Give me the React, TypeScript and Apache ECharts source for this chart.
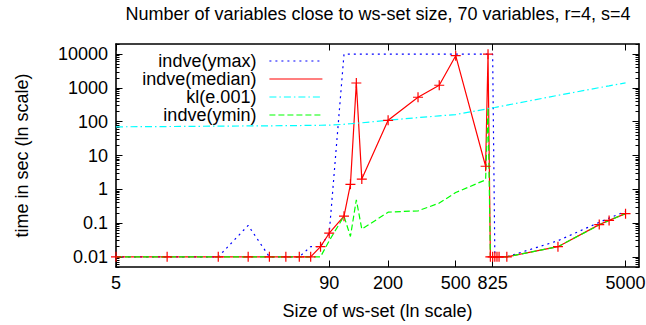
import React, { useEffect, useRef } from "react";
import * as echarts from "echarts";

// ws-set sizes (x, ln scale)
const sizes = [5, 10, 20, 30, 40, 50, 60, 70, 80, 90, 110, 120, 130, 140, 200, 300, 400, 500, 750, 775, 800, 825, 850, 875, 900, 1000, 2000, 3500, 4000, 5000];

// time in seconds per series
const ymaxValues = [0.01, 0.01, 0.01, 0.085, 0.01, 0.01, 0.01, 0.02, 0.02, 0.05, 10000, 10000, 10000, 10000, 10000, 10000, 10000, 10000, 10000, 10000, 10000, 10000, 0.01, 0.01, 0.01, 0.01, 0.03, 0.105, 0.14, 0.22];
const medianValues = [0.01, 0.01, 0.01, 0.01, 0.01, 0.01, 0.01, 0.01, 0.02, 0.05, 0.16, 1.4, 1400, 2.0, 110, 530, 1200, 9000, 4.8, 10000, 0.01, 0.01, 0.01, 0.01, 0.01, 0.01, 0.02, 0.09, 0.12, 0.19];
const klValues = [70.6, 72, 74, 75, 75.5, 76.5, 77, 78, 78.5, 79, 84, 87, 90, 93, 111, 132, 149, 163, 236, 245, 250, 258, 264, 272, 280, 309, 603, 1020, 1150, 1420];
const yminValues = [0.01, 0.01, 0.01, 0.01, 0.01, 0.01, 0.01, 0.01, 0.01, 0.03, 0.16, 0.04, 0.49, 0.066, 0.21, 0.23, 0.39, 0.8, 1.9, 260, 0.01, 0.01, 0.01, 0.01, 0.01, 0.01, 0.02, 0.088, 0.12, 0.19];

// tick labels
const xTickValues = [5, 90, 200, 500, 825, 5000];
const yTickValues = [0.01, 0.1, 1, 10, 100, 1000, 10000];
const yMinorMultipliers = [2, 3, 4, 5, 6, 7, 8, 9];
const yMinorDecades = [0.001, 0.01, 0.1, 1, 10, 100, 1000, 10000];

const seriesNames = ["indve(ymax)", "indve(median)", "kl(e.001)", "indve(ymin)"];

const FONT = "'Liberation Sans', Arial, Helvetica, sans-serif";
const X_MIN = 5;
const X_MAX = 6000;
const Y_MIN = 0.005;
const Y_MAX = 20000;

const fmt = (v: any) => String(+(+v).toPrecision(6));

function pairs(values: number[]) {
  return sizes.map((s, i) => [s, values[i]]);
}

export default function App() {
  const ref = useRef<HTMLDivElement>(null);

  useEffect(() => {
    if (!ref.current) return;
    const chart = echarts.init(ref.current, null, { renderer: "svg" });

    const yMinor: number[] = [];
    yMinorDecades.forEach((d) =>
      yMinorMultipliers.forEach((m) => {
        const v = +(m * d).toPrecision(4);
        if (v >= Y_MIN && v <= Y_MAX) yMinor.push(v);
      })
    );

    const axisLine = { show: true, onZero: false, lineStyle: { color: "#000", width: 1.6 } };
    const tickLine = { color: "#000", width: 1 };
    const labelStyle = { fontSize: 18, color: "#000", fontFamily: FONT };

    const option: any = {
      animation: false,
      backgroundColor: "#fff",
      title: {
        text: "Number of variables close to ws-set size, 70 variables, r=4, s=4",
        left: 378,
        top: 5,
        padding: 0,
        textAlign: "center",
        textStyle: { fontSize: 18, fontWeight: "normal", color: "#000", fontFamily: FONT },
      },
      grid: { left: 116, right: 7, top: 44, bottom: 58, containLabel: false, outerBoundsMode: "none" },
      legend: {
        orient: "vertical",
        align: "right",
        right: 323,
        top: 52,
        itemWidth: 53,
        itemHeight: 14,
        itemGap: 0,
        padding: 0,
        textStyle: { ...labelStyle, lineHeight: 18, padding: [0, 8, 0, 0] },
        lineStyle: { width: 1.2 },
        data: seriesNames.map((n) => ({ name: n, itemStyle: { opacity: 0 } })),
      },
      xAxis: [
        {
          type: "log",
          logBase: 10,
          min: X_MIN,
          max: X_MAX,
          position: "bottom",
          axisLine,
          axisTick: { show: true, inside: true, length: 6.5, customValues: xTickValues, lineStyle: tickLine },
          axisLabel: {
            show: true,
            customValues: xTickValues,
            formatter: fmt,
            margin: 7,
            hideOverlap: false,
            interval: 0,
            ...labelStyle,
          },
          minorTick: { show: false },
          splitLine: { show: false },
          name: "Size of ws-set (ln scale)",
          nameLocation: "middle",
          nameGap: 35,
          nameTextStyle: labelStyle,
        },
        {
          type: "log",
          logBase: 10,
          min: X_MIN,
          max: X_MAX,
          position: "top",
          axisLine,
          axisTick: { show: true, inside: true, length: 6.5, customValues: xTickValues, lineStyle: tickLine },
          axisLabel: { show: false },
          splitLine: { show: false },
        },
      ],
      yAxis: [
        {
          type: "log",
          logBase: 10,
          min: Y_MIN,
          max: Y_MAX,
          position: "left",
          axisLine,
          axisTick: { show: true, inside: true, length: 6.5, customValues: yTickValues, lineStyle: tickLine },
          axisLabel: {
            show: true,
            customValues: yTickValues,
            formatter: fmt,
            margin: 8,
            hideOverlap: false,
            interval: 0,
            ...labelStyle,
          },
          splitLine: { show: false },
          name: "time in sec (ln scale)",
          nameLocation: "middle",
          nameGap: 85,
          nameTextStyle: labelStyle,
        },
        {
          type: "log",
          logBase: 10,
          min: Y_MIN,
          max: Y_MAX,
          position: "left",
          axisLine: { show: false },
          axisTick: { show: true, inside: true, length: 3.5, customValues: yMinor, lineStyle: tickLine },
          axisLabel: { show: false },
          splitLine: { show: false },
        },
        {
          type: "log",
          logBase: 10,
          min: Y_MIN,
          max: Y_MAX,
          position: "right",
          axisLine,
          axisTick: { show: true, inside: true, length: 6.5, customValues: yTickValues, lineStyle: tickLine },
          axisLabel: { show: false },
          splitLine: { show: false },
        },
        {
          type: "log",
          logBase: 10,
          min: Y_MIN,
          max: Y_MAX,
          position: "right",
          axisLine: { show: false },
          axisTick: { show: true, inside: true, length: 3.5, customValues: yMinor, lineStyle: tickLine },
          axisLabel: { show: false },
          splitLine: { show: false },
        },
      ],
      series: [
        {
          name: seriesNames[0],
          type: "line",
          data: pairs(ymaxValues),
          symbol: "none",
          itemStyle: { color: "#0000ff" },
          lineStyle: { color: "#0000ff", width: 1.2, type: [2, 4] },
        },
        {
          name: seriesNames[1],
          type: "line",
          data: pairs(medianValues),
          symbol: "path://M0,5L10,5M5,0L5,10",
          symbolSize: 10,
          itemStyle: { color: "#ff0000", borderColor: "#ff0000", borderWidth: 1.2 },
          lineStyle: { color: "#ff0000", width: 1.2, type: "solid" },
        },
        {
          name: seriesNames[2],
          type: "line",
          data: pairs(klValues),
          symbol: "none",
          itemStyle: { color: "#00ffff" },
          lineStyle: { color: "#00ffff", width: 1.2, type: [7, 3, 1.5, 3] },
        },
        {
          name: seriesNames[3],
          type: "line",
          data: pairs(yminValues),
          symbol: "none",
          itemStyle: { color: "#00ff00" },
          lineStyle: { color: "#00ff00", width: 1.2, type: [6, 3] },
        },
      ],
    };

    chart.setOption(option);
    return () => chart.dispose();
  }, []);

  return (
    <div
      ref={ref}
      style={{ position: "absolute", left: 0, top: 0, width: 646, height: 325, background: "#fff" }}
    />
  );
}
